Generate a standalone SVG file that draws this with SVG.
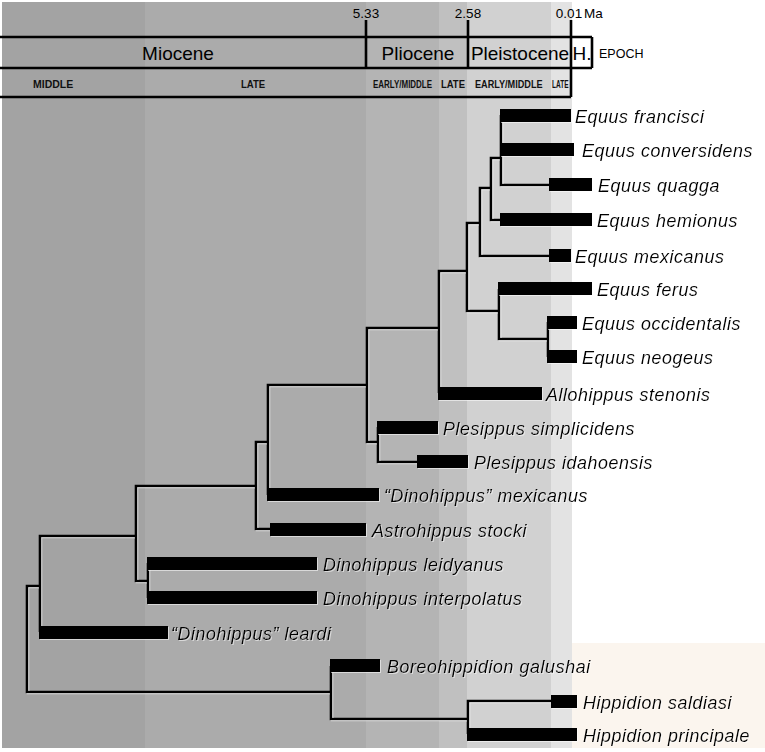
<svg xmlns="http://www.w3.org/2000/svg" width="765" height="752" viewBox="0 0 765 752">
<style>
.lbl{font-family:"Liberation Sans",Arial,sans-serif;font-style:italic;font-size:18px;letter-spacing:0.5px;fill:#000}
.ep{font-family:"Liberation Sans",Arial,sans-serif;font-size:19px;fill:#000;text-anchor:middle}
.age{font-family:"Liberation Sans",Arial,sans-serif;font-size:13.5px;fill:#000;text-anchor:middle}
.sub{font-family:"Liberation Sans",Arial,sans-serif;font-size:10.5px;font-weight:bold;fill:#111}
.bar{fill:#000}
.hl{fill:none;stroke:#000;stroke-width:2.6}
</style>
<defs>
<filter id="halo" x="-5%" y="-5%" width="110%" height="110%">
<feDropShadow dx="1" dy="1" stdDeviation="0" flood-color="#ffffff" flood-opacity="0.55"/>
</filter>
<linearGradient id="stub" x1="0" x2="1" y1="0" y2="0">
<stop offset="0" stop-color="#000" stop-opacity="0"/>
<stop offset="1" stop-color="#000" stop-opacity="1"/>
</linearGradient>
</defs>
<rect width="765" height="752" fill="#ffffff"/>
<g id="background">
<rect x="572" y="643" width="193" height="105" fill="#fbf5ee"/>
<rect x="2" y="2" width="143" height="746" fill="#a3a3a3"/>
<rect x="145" y="2" width="221" height="746" fill="#ababab"/>
<rect x="366" y="2" width="73" height="746" fill="#b4b4b4"/>
<rect x="439" y="2" width="28" height="746" fill="#c0c0c0"/>
<rect x="467" y="2" width="84" height="746" fill="#d1d1d1"/>
<rect x="551" y="2" width="21" height="746" fill="#e3e3e3"/>
</g>
<g id="timescale">
<path class="hl" d="M0,37 H592 M0,68 H592 M0,97 H571 M366,20 V68 M468,20 V68 M571,20 V97 M592,37 V68"/>
<text class="age" x="366" y="18">5.33</text>
<text class="age" x="468" y="18">2.58</text>
<text class="age" x="569" y="18">0.01</text>
<text class="age" x="584" y="18" style="text-anchor:start">Ma</text>
<text class="ep" x="178" y="60">Miocene</text>
<text class="ep" x="418" y="60">Pliocene</text>
<text class="ep" x="520" y="60">Pleistocene</text>
<text class="ep" x="582" y="60">H.</text>
<text x="599" y="58" style="font-family:'Liberation Sans',Arial,sans-serif;font-size:12.5px;fill:#000">EPOCH</text>
<text class="sub" x="33" y="88">MIDDLE</text>
<text class="sub" transform="translate(241,88) scale(0.91,1)">LATE</text>
<text class="sub" transform="translate(373,88) scale(0.76,1)">EARLY/MIDDLE</text>
<text class="sub" transform="translate(441,88) scale(0.9,1)">LATE</text>
<text class="sub" transform="translate(475,88) scale(0.87,1)">EARLY/MIDDLE</text>
<text class="sub" transform="translate(552,88) scale(0.62,1)">LATE</text>
</g>
<g id="connectors" class="hl" filter="url(#halo)">
<path d="M8,636 H27" style="stroke:url(#stub)"/>
<path d="M40,586 H27 V692 H331"/>
<path d="M136,536 H40 V632"/>
<path d="M256,486 H136 V581 H148"/>
<path d="M148,563 V598"/>
<path d="M268,442 H256 V529 H271"/>
<path d="M367,385 H268 V495"/>
<path d="M439,328 H367 V442 H378"/>
<path d="M378,427 V462 H418"/>
<path d="M467,271 H439 V393"/>
<path d="M480,223 H467 V311 H499"/>
<path d="M491,188 H480 V256 H550"/>
<path d="M501,158 H491 V220 H501"/>
<path d="M501,115 V185 H550"/>
<path d="M499,289 V339 H548"/>
<path d="M548,322 V357"/>
<path d="M331,666 V719 H468"/>
<path d="M468,734 V701 H552"/>
</g>
<g id="n-francisci" filter="url(#halo)"><rect class="bar" x="500" y="109" width="71" height="13"/><text class="lbl" x="575" y="123">Equus francisci</text></g>
<g id="n-conversidens" filter="url(#halo)"><rect class="bar" x="500" y="143" width="74" height="13"/><text class="lbl" x="582" y="157">Equus conversidens</text></g>
<g id="n-quagga" filter="url(#halo)"><rect class="bar" x="549" y="178" width="43" height="13"/><text class="lbl" x="598" y="192">Equus quagga</text></g>
<g id="n-hemionus" filter="url(#halo)"><rect class="bar" x="500" y="213" width="92" height="13"/><text class="lbl" x="597" y="227">Equus hemionus</text></g>
<g id="n-mexicanus" filter="url(#halo)"><rect class="bar" x="549" y="249" width="22" height="13"/><text class="lbl" x="575" y="263">Equus mexicanus</text></g>
<g id="n-ferus" filter="url(#halo)"><rect class="bar" x="498" y="282" width="94" height="13"/><text class="lbl" x="597" y="296">Equus ferus</text></g>
<g id="n-occidentalis" filter="url(#halo)"><rect class="bar" x="547" y="316" width="30" height="13"/><text class="lbl" x="582" y="330">Equus occidentalis</text></g>
<g id="n-neogeus" filter="url(#halo)"><rect class="bar" x="547" y="350" width="30" height="13"/><text class="lbl" x="582" y="364">Equus neogeus</text></g>
<g id="n-stenonis" filter="url(#halo)"><rect class="bar" x="438" y="387" width="104" height="13"/><text class="lbl" x="546" y="401">Allohippus stenonis</text></g>
<g id="n-simplicidens" filter="url(#halo)"><rect class="bar" x="377" y="421" width="61" height="13"/><text class="lbl" x="443" y="435">Plesippus simplicidens</text></g>
<g id="n-idahoensis" filter="url(#halo)"><rect class="bar" x="417" y="455" width="51" height="13"/><text class="lbl" x="474" y="469">Plesippus idahoensis</text></g>
<g id="n-dmexicanus" filter="url(#halo)"><rect class="bar" x="267" y="488" width="112" height="13"/><text class="lbl" x="384" y="502">“Dinohippus” mexicanus</text></g>
<g id="n-stocki" filter="url(#halo)"><rect class="bar" x="270" y="523" width="96" height="13"/><text class="lbl" x="372" y="537">Astrohippus stocki</text></g>
<g id="n-leidyanus" filter="url(#halo)"><rect class="bar" x="147" y="557" width="170" height="13"/><text class="lbl" x="323" y="571">Dinohippus leidyanus</text></g>
<g id="n-interpolatus" filter="url(#halo)"><rect class="bar" x="147" y="591" width="170" height="13"/><text class="lbl" x="323" y="605">Dinohippus interpolatus</text></g>
<g id="n-leardi" filter="url(#halo)"><rect class="bar" x="39" y="626" width="129" height="13"/><text class="lbl" x="171" y="640">“Dinohippus” leardi</text></g>
<g id="n-galushai" filter="url(#halo)"><rect class="bar" x="330" y="659" width="50" height="13"/><text class="lbl" x="387" y="673">Boreohippidion galushai</text></g>
<g id="n-saldiasi" filter="url(#halo)"><rect class="bar" x="551" y="695" width="26" height="13"/><text class="lbl" x="583" y="709">Hippidion saldiasi</text></g>
<g id="n-principale" filter="url(#halo)"><rect class="bar" x="467" y="728" width="110" height="13"/><text class="lbl" x="583" y="742">Hippidion principale</text></g>
</svg>
